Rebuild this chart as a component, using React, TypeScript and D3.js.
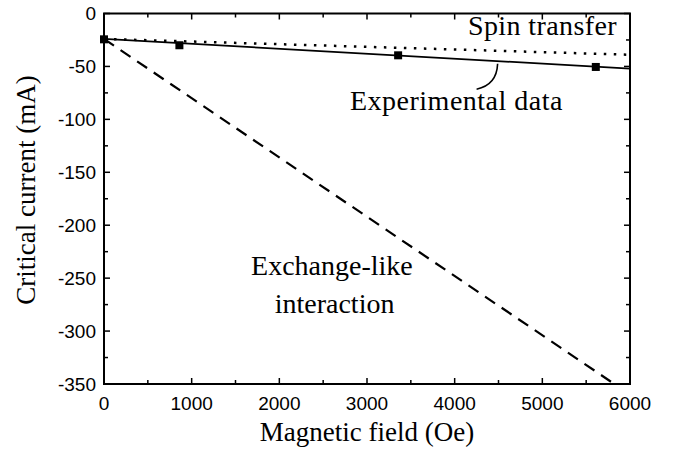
import React from 'react';
import * as d3 from 'd3';

// Axis ticks
const fieldTicks = [0, 1000, 2000, 3000, 4000, 5000, 6000];
const fieldMinorTicks = [500, 1500, 2500, 3500, 4500, 5500];
const currentTicks = [0, -50, -100, -150, -200, -250, -300, -350];
const currentMinorTicks = [-25, -75, -125, -175, -225, -275, -325];

// Experimental points (Oe, mA)
const expField = [0, 860, 3355, 5610];
const expCurrent = [-24.4, -30, -39.5, -50.5];

// Linear fit through experimental data
const fitField = [0, 6000];
const fitCurrent = [-24, -52];

// Spin transfer model
const spinField = [0, 6000];
const spinCurrent = [-24, -39];

// Exchange-like interaction model
const exchangeField = [0, 6000];
const exchangeCurrent = [-24, -360];

// Annotation leader (start, control, end) in data units
const leaderField = [4250, 4480, 4490];
const leaderCurrent = [-71.5, -67.5, -47.5];

const W = 680;
const H = 449;
const margin = { top: 13.5, right: 50, bottom: 65, left: 104 };

const serif = 'Liberation Serif';
const sans = 'Liberation Sans';

const x = d3.scaleLinear().domain([0, 6000]).range([margin.left, W - margin.right]);
const y = d3.scaleLinear().domain([0, -350]).range([margin.top, H - margin.bottom]);
const line = d3.line<[number, number]>().x(d => x(d[0])).y(d => y(d[1]));
const zip = (a: number[], b: number[]) => a.map((v, i) => [v, b[i]] as [number, number]);

export default function App() {
  const [x0, x1] = x.range();
  const [y0, y1] = y.range();
  const size = 8;

  const lp = d3.path();
  lp.moveTo(x(leaderField[0]), y(leaderCurrent[0]));
  lp.quadraticCurveTo(x(leaderField[1]), y(leaderCurrent[1]), x(leaderField[2]), y(leaderCurrent[2]));

  const xt = [...fieldTicks.map(v => [v, 6]), ...fieldMinorTicks.map(v => [v, 4])];
  const yt = [...currentTicks.map(v => [v, 6]), ...currentMinorTicks.map(v => [v, 4])];

  const note = (txt: string, fx: number, cy: number, anchor: string, ls: number) => (
    <text x={x(fx)} y={y(cy)} textAnchor={anchor} fontFamily={serif} fontSize={28} letterSpacing={ls}>
      {txt}
    </text>
  );

  return (
    <svg width={W} height={H} style={{ position: 'absolute', left: 0, top: 0, display: 'block' }}>
      <rect width={W} height={H} fill="#fff" />
      <defs>
        <clipPath id="plot-clip">
          <rect x={x0} y={y0} width={x1 - x0} height={y1 - y0} />
        </clipPath>
      </defs>

      <g clipPath="url(#plot-clip)" fill="none" stroke="#000">
        <path d={line(zip(exchangeField, exchangeCurrent)) || ''} strokeWidth={2.2} strokeDasharray="12,8" />
        <path d={line(zip(spinField, spinCurrent)) || ''} strokeWidth={2.5} strokeDasharray="2.5,7.5" />
        <path d={line(zip(fitField, fitCurrent)) || ''} strokeWidth={1.8} />
      </g>

      {zip(expField, expCurrent).map((d, i) => (
        <rect key={i} x={x(d[0]) - size / 2} y={y(d[1]) - size / 2} width={size} height={size} fill="#000" />
      ))}

      <path d={lp.toString()} fill="none" stroke="#000" strokeWidth={1.6} />

      <rect x={x0} y={y0} width={x1 - x0} height={y1 - y0} fill="none" stroke="#000" strokeWidth={2} />

      <g stroke="#000" strokeWidth={1.5}>
        {xt.map(([v, len], i) => (
          <g key={'x' + i}>
            <line x1={x(v)} x2={x(v)} y1={y1} y2={y1 - len} />
            <line x1={x(v)} x2={x(v)} y1={y0} y2={y0 + len} />
          </g>
        ))}
        {yt.map(([v, len], i) => (
          <g key={'y' + i}>
            <line y1={y(v)} y2={y(v)} x1={x0} x2={x0 + len} />
            <line y1={y(v)} y2={y(v)} x1={x1} x2={x1 - len} />
          </g>
        ))}
      </g>

      {fieldTicks.map(v => (
        <text key={v} x={x(v)} y={y1 + 25.5} textAnchor="middle" fontFamily={sans} fontSize={19}>
          {String(v)}
        </text>
      ))}
      {currentTicks.map(v => (
        <text key={v} x={x0 - 8} y={y(v)} dy="0.36em" textAnchor="end" fontFamily={sans} fontSize={19}>
          {String(v)}
        </text>
      ))}

      <text x={(x0 + x1) / 2} y={H - 8} textAnchor="middle" fontFamily={serif} fontSize={27}>
        Magnetic field (Oe)
      </text>
      <text transform="translate(35,190) rotate(-90)" textAnchor="middle" fontFamily={serif} fontSize={27}>
        Critical current (mA)
      </text>

      {note('Spin transfer', 5852, -20.3, 'end', 0.4)}
      {note('Experimental data', 2806, -91.2, 'start', 0.5)}
      {note('Exchange-like', 2600, -247, 'middle', 0)}
      {note('interaction', 2630, -283, 'middle', 0)}
    </svg>
  );
}
